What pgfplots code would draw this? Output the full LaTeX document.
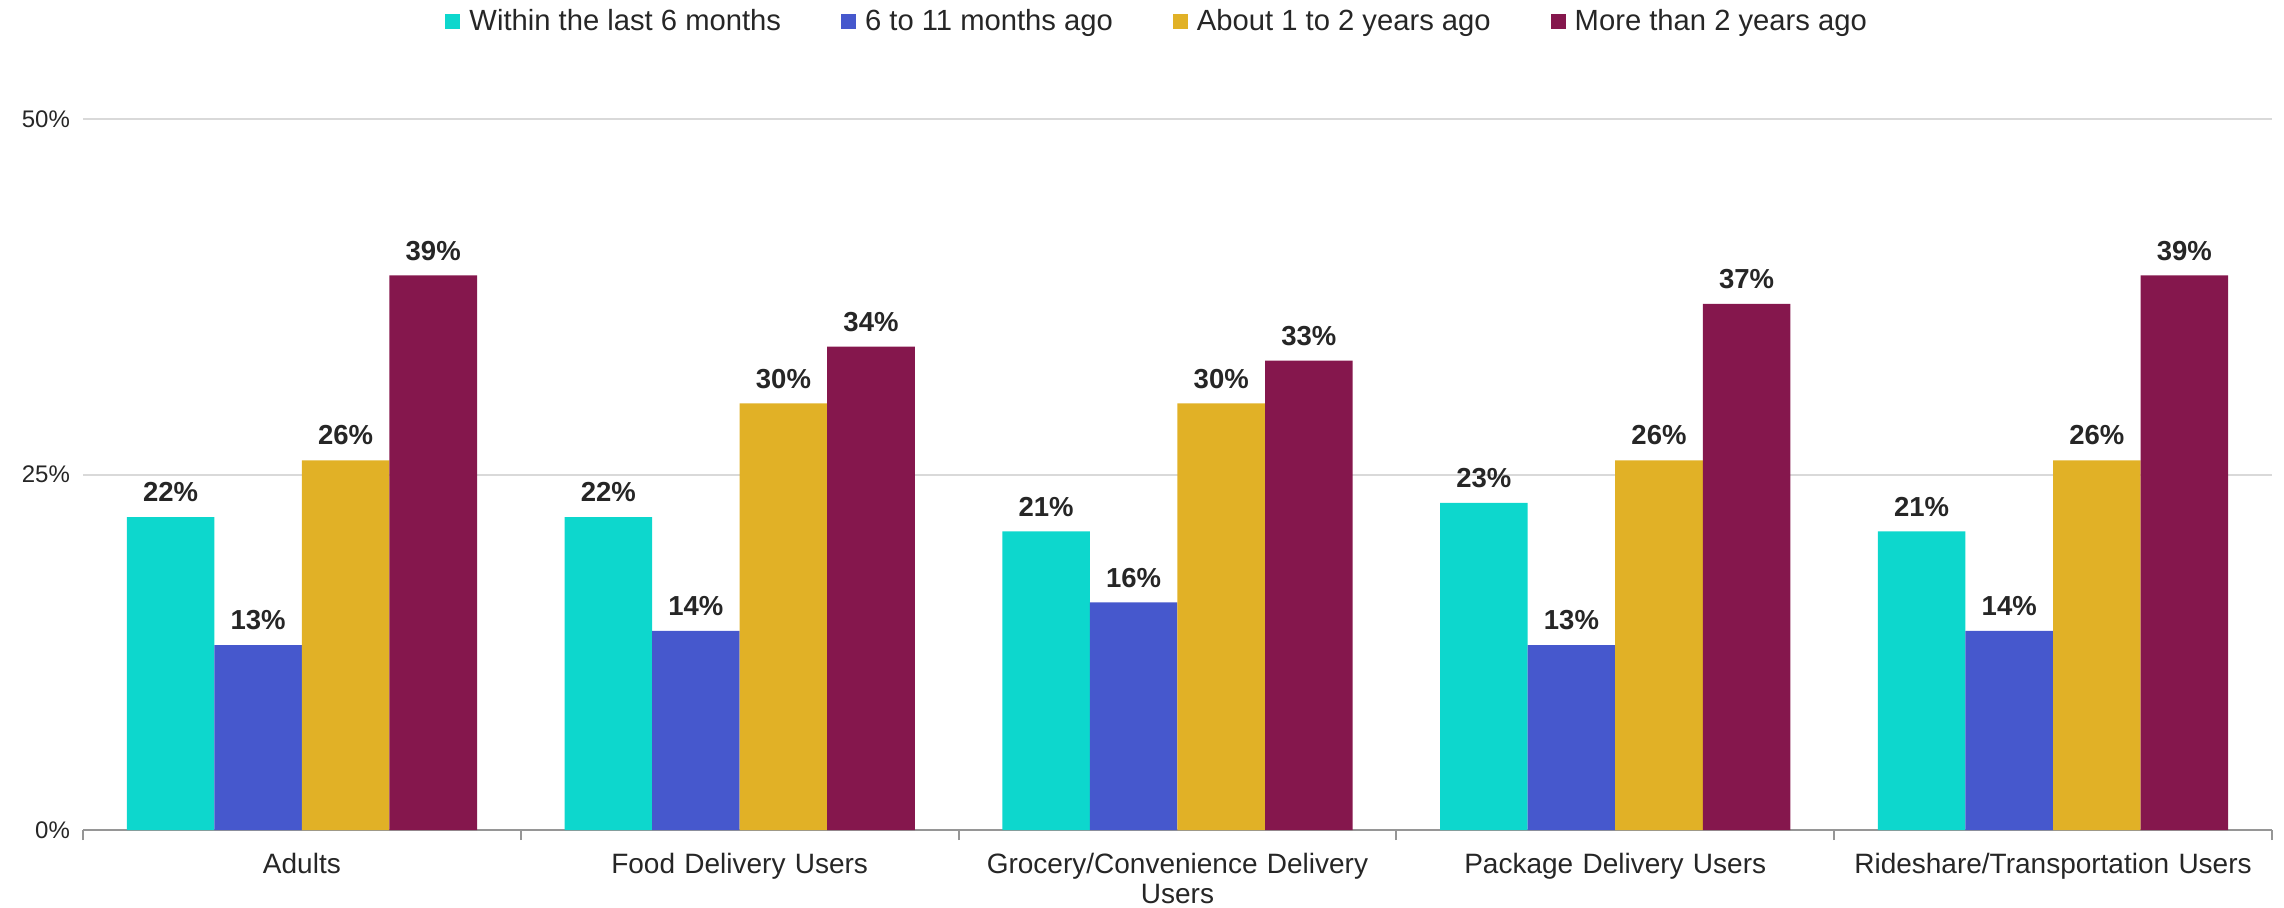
\documentclass[border=0pt]{standalone}
\usepackage{fontspec}
\setmainfont{Liberation Sans}
\usepackage{pgfplots}
\pgfplotsset{compat=1.18}
\definecolor{cA}{RGB}{13,215,205}
\definecolor{cB}{RGB}{70,88,205}
\definecolor{cC}{RGB}{225,177,38}
\definecolor{cD}{RGB}{133,23,77}
\definecolor{txt}{RGB}{38,38,38}
\definecolor{gridc}{RGB}{217,217,217}
\definecolor{axc}{RGB}{150,150,150}
\begin{document}
\begin{tikzpicture}
\useasboundingbox (0,0) rectangle (1142pt,453.5pt);
\begin{axis}[
  at={(41.5pt,38.5pt)}, anchor=south west,
  scale only axis, width=1094.5pt, height=355.5pt,
  xmin=-0.5, xmax=4.5, ymin=0, ymax=50,
  ybar=0pt, bar width=0.2,
  /pgf/number format/assume math mode=true,
  axis x line*=bottom, axis y line*=left,
  x axis line style={draw=axc, line width=1pt},
  y axis line style={draw=none},
  ytick={0,25,50}, yticklabels={0\%,25\%,50\%},
  ymajorgrids, grid style={draw=gridc, line width=1pt},
  yticklabel style={font=\fontsize{12pt}{14pt}\selectfont, text=txt, xshift=-3pt},
  xtick={0,1,2,3,4},
  xticklabels={Adults,Food Delivery Users,{Grocery/Convenience Delivery\\Users},Package Delivery Users,Rideshare/Transportation Users},
  xticklabel style={font=\fontsize{14pt}{15.3pt}\selectfont, text=txt, text width=215pt, align=center, anchor=north, yshift=-8pt},
  major tick length=0pt,
  minor xtick={-0.5,0.5,1.5,2.5,3.5,4.5},
  minor tick length=5pt,
  xtick align=outside,
  minor x tick style={draw=axc, line width=1pt},
  ytick style={draw=none},
  every axis plot/.append style={draw=none},
  nodes near coords={\pgfmathprintnumber{\pgfplotspointmeta}\%},
  nodes near coords style={font=\fontsize{13.75pt}{16pt}\selectfont\bfseries, text=txt, anchor=south, yshift=4pt},
  legend style={at={(0.1654,1.1378)}, anchor=west, draw=none, fill=none,
    legend columns=4, inner sep=0pt, font=\fontsize{14.6pt}{17pt}\selectfont, text=txt,
    /tikz/every even column/.append style={column sep=28pt}},
  legend cell align=left,
  legend image code/.code={\fill[#1] (0pt,-3.75pt) rectangle (7.5pt,3.75pt); \path (10pt,0pt);},
]
\addplot[fill=cA] coordinates {(0,22) (1,22) (2,21) (3,23) (4,21)};
\addplot[fill=cB] coordinates {(0,13) (1,14) (2,16) (3,13) (4,14)};
\addplot[fill=cC] coordinates {(0,26) (1,30) (2,30) (3,26) (4,26)};
\addplot[fill=cD] coordinates {(0,39) (1,34) (2,33) (3,37) (4,39)};
\legend{Within the last 6 months,6 to 11 months ago,About 1 to 2 years ago,More than 2 years ago}
\end{axis}
\end{tikzpicture}
\end{document}
